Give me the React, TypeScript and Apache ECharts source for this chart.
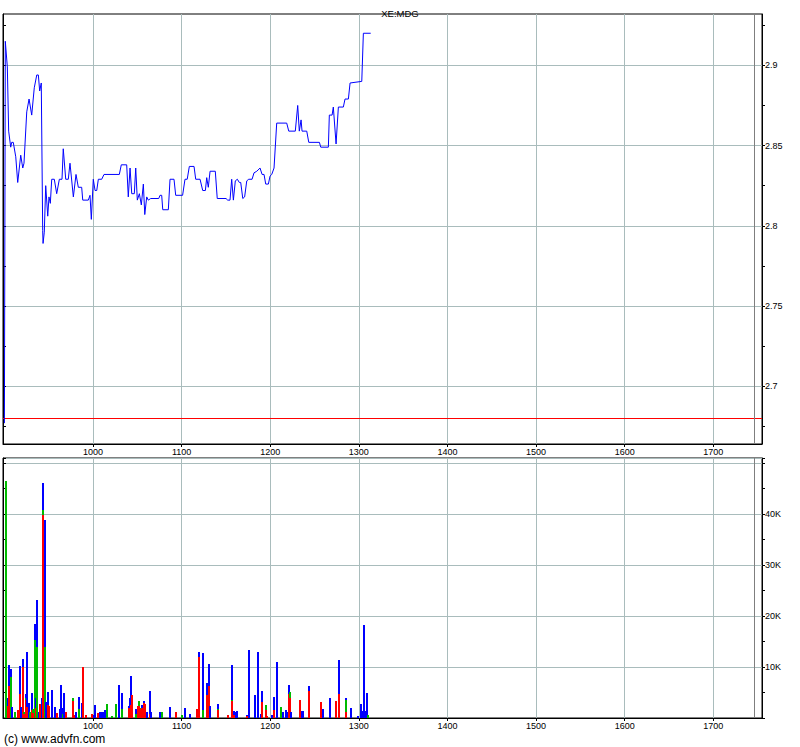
import React, { useEffect, useRef } from 'react';
import * as echarts from 'echarts';

const chartTitle = 'XE:MDG';
const footerText = '(c) www.advfn.com';

const xTickValues = [1000, 1100, 1200, 1300, 1400, 1500, 1600, 1700];
const priceTickValues = [2.7, 2.75, 2.8, 2.85, 2.9];
const priceMinorTickValues = [2.675, 2.7, 2.725, 2.75, 2.775, 2.8, 2.825, 2.85, 2.875, 2.9, 2.925];
const prevCloseLevel = 2.677;
const endMarkerX = 1746;

const priceX = [
  900, 901, 903.3, 904.8, 907.1, 908.2, 910, 912.8, 915, 918.4,
  920.7, 922.1, 925.2, 927.8, 930.8, 933.7, 936.5, 938.3, 939.8, 941.6,
  943.2, 943.6, 945, 946.6, 948.9, 950.3, 951.8, 953.4, 956.3, 959,
  962, 965, 966.4, 969.2, 972.1, 974, 977.8, 980.8, 983.4, 987.2,
  988.4, 994.7, 996.6, 998.1, 1000.3, 1002.3, 1004.2, 1006, 1009.8, 1012.4,
  1029.7, 1031.9, 1038, 1039.8, 1041.8, 1043.7, 1046.6, 1048.2, 1050, 1052.3,
  1054.5, 1056.8, 1058.4, 1060.6, 1062.4, 1065.1, 1074.2, 1075.6, 1077.5, 1078.7,
  1085, 1086.9, 1091.4, 1093.3, 1101.1, 1103.8, 1106.3, 1108.7, 1114, 1115.9,
  1120.8, 1123.8, 1126.8, 1128.3, 1130.1, 1132.1, 1138, 1140.2, 1150.1, 1152,
  1154.6, 1156.5, 1158.4, 1160.6, 1162.9, 1165.1, 1166.7, 1169, 1171.1, 1173.5,
  1175.7, 1179.5, 1181.7, 1184.8, 1188.5, 1190.8, 1193, 1194.9, 1197.9, 1199.8,
  1201.7, 1204.3, 1207.3, 1218.6, 1220.9, 1228.3, 1231, 1232.8, 1234.8, 1235.9,
  1241.2, 1243.5, 1255.5, 1257, 1265.6, 1266.7, 1269.8, 1271.2, 1274.3, 1276.9,
  1282.5, 1284.4, 1288.2, 1290.1, 1303.3, 1305.1, 1307, 1313.4,
];

const priceY = [
  2.677, 2.915, 2.899, 2.859, 2.849, 2.852, 2.852, 2.843, 2.827, 2.844,
  2.836, 2.839, 2.871, 2.879, 2.869, 2.886, 2.894, 2.894, 2.884, 2.889,
  2.797, 2.789, 2.796, 2.825, 2.806, 2.818, 2.814, 2.829, 2.829, 2.82,
  2.829, 2.829, 2.848, 2.829, 2.829, 2.839, 2.818, 2.832, 2.824, 2.824,
  2.816, 2.816, 2.819, 2.804, 2.829, 2.822, 2.822, 2.829, 2.829, 2.832,
  2.832, 2.838, 2.838, 2.818, 2.836, 2.82, 2.82, 2.836, 2.816, 2.82,
  2.813, 2.826, 2.807, 2.818, 2.816, 2.817, 2.817, 2.819, 2.819, 2.81,
  2.81, 2.829, 2.829, 2.819, 2.819, 2.829, 2.829, 2.837, 2.837, 2.829,
  2.829, 2.822, 2.822, 2.83, 2.824, 2.834, 2.834, 2.817, 2.817, 2.816,
  2.816, 2.829, 2.816, 2.828, 2.829, 2.827, 2.827, 2.817, 2.818, 2.828,
  2.829, 2.829, 2.833, 2.834, 2.836, 2.832, 2.832, 2.826, 2.826, 2.831,
  2.832, 2.836, 2.864, 2.864, 2.859, 2.859, 2.875, 2.859, 2.866, 2.859,
  2.859, 2.852, 2.852, 2.849, 2.849, 2.869, 2.869, 2.874, 2.851, 2.874,
  2.874, 2.879, 2.879, 2.889, 2.89, 2.92, 2.92, 2.92,
];

const volX = [
  901.8, 904.4, 905.6, 907.8, 908.9, 912.3, 915.7, 918.0, 919.1, 921.4,
  922.5, 924.8, 925.9, 927.8, 929.3, 931.5, 932.7, 934.9, 936.0, 937.2,
  939.4, 940.6, 942.8, 943.9, 946.2, 947.3, 949.6, 950.7, 953.3, 954.1,
  957.5, 959.7, 963.1, 964.3, 966.5, 967.6, 969.9, 977.8, 978.6, 981.2,
  984.6, 988.0, 989.1, 992.5, 998.5, 1001.5, 1002.6, 1006.0, 1008.3, 1009.4,
  1011.7, 1013.9, 1016.2, 1021.1, 1026.3, 1029.7, 1033.1, 1040.3, 1041.4, 1043.3,
  1044.4, 1048.9, 1051.2, 1052.3, 1054.5, 1055.7, 1057.9, 1059.1, 1061.3, 1064.7,
  1065.8, 1076.0, 1078.3, 1087.3, 1094.1, 1100.8, 1104.2, 1109.9, 1117.8, 1120.0,
  1124.5, 1129.0, 1131.3, 1132.4, 1141.4, 1152.7, 1157.2, 1159.5, 1161.1, 1162.9,
  1173.5, 1176.4, 1183.2, 1186.6, 1190.0, 1191.1, 1195.6, 1196.8, 1202.4, 1204.6,
  1208.0, 1212.5, 1214.8, 1218.2, 1219.3, 1221.6, 1222.7, 1223.8, 1234.0, 1236.2,
  1237.4, 1244.1, 1257.7, 1260.0, 1267.8, 1274.6, 1278.0, 1285.9, 1291.5, 1299.4,
  1302.8, 1305.1, 1306.2, 1307.3, 1309.6, 1310.7,
];

// volumes in thousands, one segment per colour (red at the bottom, then green, then blue)
const volRedK = [
  0, 2.4, 6.2, 0, 0, 0, 1.5, 4.8, 0, 10.0,
  0.8, 3.5, 2.2, 0, 0, 1.6, 1.0, 0, 2.0, 0,
  0, 2.7, 0, 39.8, 0, 0, 2.5, 2.4, 0, 0,
  0, 1.0, 0, 0, 0, 0, 1.2, 3.3, 0.6, 0,
  0, 0, 10.0, 0.6, 0.8, 0, 0, 1.0, 0, 0,
  0, 0, 0, 0, 0, 0, 0, 2.0, 2.0, 2.6,
  4.5, 0, 2.4, 2.4, 1.7, 2.0, 3.0, 2.8, 0, 0.8,
  0, 0, 0, 0, 1.2, 0, 0, 0, 1.8, 12.0,
  0, 4.5, 6.3, 0, 1.5, 0.5, 3.3, 0.5, 0, 0,
  0.3, 0, 0, 0, 0, 3.1, 1.5, 0.3, 0, 1.5,
  0, 0, 0, 0, 0, 4.8, 4.0, 0, 3.6, 0,
  0, 5.2, 3.1, 0, 0, 3.3, 4.8, 1.1, 0, 0,
  0, 0, 0, 0, 0, 0,
];

const volGreenK = [
  46.5, 0, 0, 8.0, 0, 1.2, 0, 0, 0, 0,
  0.4, 0.5, 0, 0, 1.2, 0, 0.8, 15.3, 0, 14.0,
  0, 0, 0, 1.0, 14.0, 0, 0, 0, 0, 0,
  0, 0, 0, 0, 0.7, 0, 0, 0.6, 0, 0,
  1.8, 0, 0, 0, 0, 0, 0, 0, 0, 0,
  0, 0, 2.8, 0.3, 2.8, 0, 1.8, 0, 0, 0,
  0, 0.8, 0, 0.9, 0.2, 0, 0, 0, 0, 0,
  0, 0, 1.2, 0, 0, 0.5, 0, 0, 0, 0,
  1.5, 0, 0, 0, 0.3, 0, 0.3, 0, 0, 0,
  0, 0, 0, 0, 0, 0, 1.0, 0, 0, 0,
  0, 2.1, 0, 0, 0, 0, 1.1, 0, 0, 0,
  0, 0, 0, 0, 0, 0, 0, 2.4, 0, 0,
  0, 0, 0, 0, 0, 0.5,
];

const volBlueK = [
  0, 1.5, 4.1, 1.7, 2.2, 0, 0, 5.4, 2.2, 1.5,
  0, 0.7, 10.7, 2.9, 0, 3.4, 0, 3.1, 2.0, 9.1,
  1.2, 0, 3.9, 5.2, 24.8, 3.1, 2.6, 0, 3.3, 5.4,
  2.2, 0, 1.8, 6.4, 1.2, 5.0, 0, 0, 0, 1.2,
  2.3, 2.9, 0, 0, 0, 0.6, 2.5, 0, 1.2, 1.2,
  1.2, 1.6, 0, 0, 0, 6.4, 3.2, 0.4, 1.9, 5.6,
  0, 1.0, 0, 0, 0, 0.5, 0.3, 0, 1.2, 4.5,
  1.2, 1.2, 0, 2.2, 0, 0, 2.0, 0.8, 0, 0.9,
  11.3, 2.3, 4.3, 2.3, 1.0, 0, 6.8, 0.8, 1.2, 1.3,
  0.3, 13.3, 4.5, 13.0, 0.8, 2.2, 0, 0, 0.5, 2.7,
  11.0, 0, 1.2, 1.5, 1.2, 1.6, 0, 1.2, 0, 1.3,
  1.3, 1.0, 0, 1.8, 3.9, 0, 6.5, 0.4, 2.0, 0.4,
  2.7, 1.3, 18.2, 1.3, 5.0, 0,
];

const FONT = '"Liberation Sans", Arial, sans-serif';
const GRID_COLOR = '#a9bcbc';
const AXIS_COLOR = '#000';
const SEGMENT_COLORS = ['#ff0000', '#00bb00', '#0000ff'];

export default function App() {
  const ref = useRef<HTMLDivElement>(null);

  useEffect(() => {
    const chart = echarts.init(ref.current as HTMLDivElement, null, { renderer: 'svg' });

    const labelStyle = { fontSize: 9, color: '#000', fontFamily: FONT };

    const xAxisBase = (gridIndex: number) => ({
      type: 'value',
      gridIndex,
      min: 898.4,
      max: 1755,
      axisLine: { show: true, onZero: false, lineStyle: { color: AXIS_COLOR, width: 1 } },
      axisTick: { show: true, customValues: xTickValues, length: 3, lineStyle: { color: AXIS_COLOR } },
      axisLabel: { ...labelStyle, customValues: xTickValues, margin: 3, formatter: (v: number) => String(v) },
      splitLine: { show: true, lineStyle: { color: GRID_COLOR, width: 1 } },
    });

    const volumeData = volX.map((x, i) => [x, volRedK[i], volGreenK[i], volBlueK[i]]);

    // stacked volume bar: red at the bottom, then green, then blue, each segment its own rect
    const renderVolume = (params: any, api: any) => {
      const x = api.value(0);
      const parts = [api.value(1), api.value(2), api.value(3)];
      const children: any[] = [];
      let cum = 0;
      const px = Math.round(api.coord([x, 0])[0]) - 1;
      parts.forEach((v: number, k: number) => {
        if (v <= 0) return;
        const yBottom = Math.round(api.coord([x, cum])[1]);
        cum += v;
        const yTop = Math.round(api.coord([x, cum])[1]);
        const h = Math.max(1, yBottom - yTop);
        children.push({
          type: 'rect',
          shape: { x: px, y: yBottom - h, width: 2, height: h },
          style: { fill: SEGMENT_COLORS[k] },
        });
      });
      return { type: 'group', children };
    };

    const option: any = {
      animation: false,
      backgroundColor: '#fff',
      title: {
        text: chartTitle,
        left: 'center',
        top: 3,
        textStyle: { fontSize: 9.5, fontWeight: 'normal', color: '#000', fontFamily: FONT },
      },
      graphic: [
        {
          type: 'text',
          left: 4,
          top: 733,
          style: { text: footerText, fontSize: 12, fill: '#000', fontFamily: FONT },
        },
      ],
      grid: [
        { left: 3, top: 14, width: 759, height: 430, show: true, borderColor: '#000', borderWidth: 1, backgroundColor: 'transparent' },
        { left: 3, top: 458, width: 759, height: 260, show: true, borderColor: '#000', borderWidth: 1, backgroundColor: 'transparent' },
      ],
      xAxis: [xAxisBase(0), xAxisBase(1)],
      yAxis: [
        {
          type: 'value',
          gridIndex: 0,
          position: 'right',
          min: 2.664,
          max: 2.932,
          axisLine: { show: true, lineStyle: { color: AXIS_COLOR } },
          axisTick: { show: true, customValues: priceTickValues, length: 3, lineStyle: { color: AXIS_COLOR } },
          axisLabel: {
            ...labelStyle,
            customValues: priceTickValues,
            margin: 3,
            formatter: (v: number) => String(Math.round(v * 1000) / 1000),
          },
          splitLine: { show: true, lineStyle: { color: GRID_COLOR, width: 1 } },
        },
        {
          type: 'value',
          gridIndex: 0,
          position: 'right',
          min: 2.664,
          max: 2.932,
          axisLine: { show: false },
          axisTick: { show: true, customValues: priceMinorTickValues, length: 3, lineStyle: { color: AXIS_COLOR } },
          axisLabel: { show: false },
          splitLine: { show: false },
        },
        {
          type: 'value',
          gridIndex: 0,
          position: 'left',
          min: 2.664,
          max: 2.932,
          axisLine: { show: true, lineStyle: { color: AXIS_COLOR } },
          axisTick: { show: true, inside: true, customValues: priceMinorTickValues, length: 3, lineStyle: { color: AXIS_COLOR } },
          axisLabel: { show: false },
          splitLine: { show: false },
        },
        {
          type: 'value',
          gridIndex: 1,
          position: 'right',
          min: 0,
          max: 51,
          interval: 10,
          axisLine: { show: true, lineStyle: { color: AXIS_COLOR } },
          axisTick: { show: true, length: 3, lineStyle: { color: AXIS_COLOR } },
          minorTick: { show: true, splitNumber: 2, length: 3, lineStyle: { color: AXIS_COLOR } },
          axisLabel: {
            ...labelStyle,
            margin: 3,
            formatter: (v: number) => (v <= 0 || v >= 50 ? '' : v + 'K'),
          },
          splitLine: { show: true, lineStyle: { color: GRID_COLOR, width: 1 } },
        },
        {
          type: 'value',
          gridIndex: 1,
          position: 'left',
          min: 0,
          max: 51,
          interval: 5,
          axisLine: { show: true, lineStyle: { color: AXIS_COLOR } },
          axisTick: { show: true, inside: true, length: 3, lineStyle: { color: AXIS_COLOR } },
          axisLabel: { show: false },
          splitLine: { show: false },
        },
      ],
      series: [
        {
          type: 'line',
          name: 'price',
          xAxisIndex: 0,
          yAxisIndex: 0,
          data: priceX.map((x, i) => [x, priceY[i]]),
          showSymbol: false,
          symbol: 'none',
          lineStyle: { color: '#0000ff', width: 1 },
          z: 5,
          markLine: {
            silent: true,
            symbol: ['none', 'none'],
            label: { show: false },
            data: [
              { yAxis: prevCloseLevel, lineStyle: { color: '#ff0000', width: 1, type: 'solid' } },
              { xAxis: endMarkerX, lineStyle: { color: '#7f7f7f', width: 1, type: 'solid' } },
            ],
          },
        },
        {
          type: 'custom',
          name: 'volume',
          xAxisIndex: 1,
          yAxisIndex: 3,
          data: volumeData,
          renderItem: renderVolume,
          encode: { x: 0, y: [1, 2, 3] },
          clip: true,
          z: 3,
          markLine: {
            silent: true,
            symbol: ['none', 'none'],
            label: { show: false },
            data: [{ xAxis: endMarkerX, lineStyle: { color: '#7f7f7f', width: 1, type: 'solid' } }],
          },
        },
      ],
    };

    chart.setOption(option);
    return () => chart.dispose();
  }, []);

  return (
    <div
      ref={ref}
      style={{ position: 'fixed', left: 0, top: 0, width: 800, height: 747, background: '#fff' }}
    />
  );
}
